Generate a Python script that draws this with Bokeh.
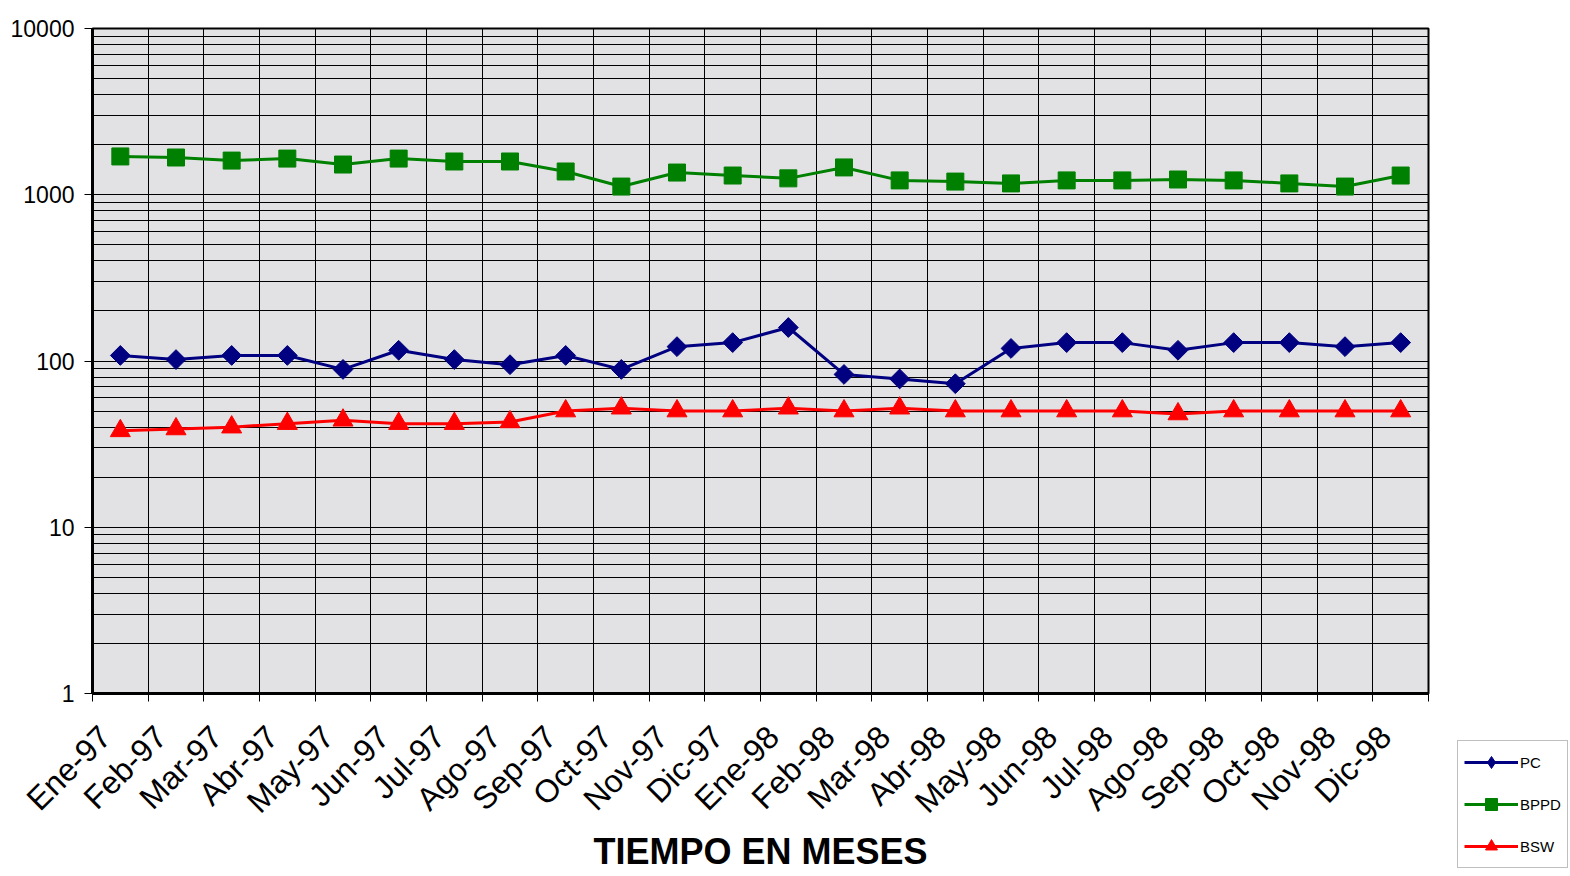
import math
from bokeh.plotting import figure
from bokeh.layouts import row, column
from bokeh.models import (Range1d, FixedTicker, PrintfTickFormatter, Legend, LegendItem,
                          Spacer)
from bokeh.embed import file_html
from bokeh.resources import INLINE

months = ["Ene-97", "Feb-97", "Mar-97", "Abr-97", "May-97", "Jun-97", "Jul-97", "Ago-97",
          "Sep-97", "Oct-97", "Nov-97", "Dic-97", "Ene-98", "Feb-98", "Mar-98", "Abr-98",
          "May-98", "Jun-98", "Jul-98", "Ago-98", "Sep-98", "Oct-98", "Nov-98", "Dic-98"]
pc = [108, 102, 108, 108, 89, 116, 102, 95, 108, 89, 122, 129,
      159, 83, 78, 73, 119, 129, 129, 116, 129, 129, 122, 129]
bppd = [1700, 1675, 1605, 1650, 1520, 1650, 1585, 1585, 1380, 1120, 1360, 1305,
        1255, 1460, 1220, 1200, 1170, 1220, 1220, 1235, 1220, 1170, 1120, 1305]
bsw = [38, 39, 40, 42, 44, 42, 42, 43, 50, 52, 50, 50,
       52, 50, 52, 50, 50, 50, 50, 48, 50, 50, 50, 50]
y_ticks = [1, 10, 100, 1000, 10000]
series_names = ["PC", "BPPD", "BSW"]

FONT = "Liberation Sans"
NAVY, GREEN, RED = "#000080", "#008000", "#FF0000"
n = len(months)
xs = [i + 0.5 for i in range(n)]
label_pos = [x - 0.27 for x in xs]  # rotated labels end slightly left of the category centre

p = figure(width=1457, height=875, y_axis_type="log",
           x_range=Range1d(0, n), y_range=Range1d(1, 10000),
           output_backend="svg", toolbar_location=None,
           min_border_left=92, min_border_right=29, min_border_top=28, min_border_bottom=182)
p.background_fill_color = "#e2e2e4"
p.border_fill_color = "white"
p.outline_line_color = "black"
p.outline_line_width = 2

# x axis
minor_x = list(range(n + 1))
p.xaxis.ticker = FixedTicker(ticks=label_pos, minor_ticks=minor_x)
p.xaxis.major_label_overrides = {x: m for x, m in zip(label_pos, months)}
p.xaxis.major_label_orientation = math.pi / 4
p.xaxis.major_label_text_font = FONT
p.xaxis.major_label_text_font_size = "32px"
p.xaxis.major_label_text_color = "black"
p.xaxis.major_tick_line_color = None
p.xaxis.major_tick_out = 8
p.xaxis.major_tick_in = 0
p.xaxis.minor_tick_line_color = "black"
p.xaxis.minor_tick_out = 8
p.xaxis.minor_tick_in = 0
p.xaxis.minor_tick_line_width = 1
p.xaxis.major_label_standoff = 30
p.xaxis.axis_line_width = 3
p.xaxis.axis_line_color = "black"
p.xaxis.axis_label = "TIEMPO EN MESES"
p.xaxis.axis_label_text_font = FONT
p.xaxis.axis_label_text_font_style = "bold"
p.xaxis.axis_label_text_font_size = "36px"
p.xaxis.axis_label_text_color = "black"
p.xaxis.axis_label_standoff = -4

# y axis
minor_y = [m * 10 ** k for k in range(4) for m in range(2, 10)]
p.yaxis.ticker = FixedTicker(ticks=y_ticks, minor_ticks=minor_y)
p.yaxis.formatter = PrintfTickFormatter(format="%d")
p.yaxis.major_label_text_font = FONT
p.yaxis.major_label_text_font_size = "23px"
p.yaxis.major_label_text_color = "black"
p.yaxis.major_tick_out = 8
p.yaxis.major_tick_in = 0
p.yaxis.major_tick_line_color = "black"
p.yaxis.minor_tick_line_color = None
p.yaxis.major_label_standoff = 10
p.yaxis.axis_line_width = 3
p.yaxis.axis_line_color = "black"

# grids
p.xgrid.ticker = FixedTicker(ticks=minor_x)
p.xgrid.grid_line_color = "black"
p.xgrid.grid_line_width = 1
p.ygrid.grid_line_color = "black"
p.ygrid.grid_line_width = 1
p.ygrid.minor_grid_line_color = "black"
p.ygrid.minor_grid_line_width = 1

# series
p.line(xs, pc, line_color=NAVY, line_width=3)
p.scatter(xs, pc, marker="square", angle=math.pi / 4, size=14, fill_color=NAVY, line_color=NAVY)
p.line(xs, bppd, line_color=GREEN, line_width=3)
p.scatter(xs, bppd, marker="square", size=17, fill_color=GREEN, line_color=GREEN)
p.line(xs, bsw, line_color=RED, line_width=3)
p.scatter(xs, bsw, marker="triangle", size=20, fill_color=RED, line_color=RED)

# legend in its own small figure at the bottom right; the series drawn there lie
# outside that figure's visible range, so only the legend shows
lg = figure(width=112, height=128, output_backend="svg", toolbar_location=None,
            x_axis_location=None, y_axis_location=None,
            x_range=Range1d(0, n), y_range=Range1d(-2, -1),
            min_border=0)
lg.grid.visible = False
lg.outline_line_color = None
lg.background_fill_color = "white"
items = []
for name, vals, col, mk in zip(series_names, [pc, bppd, bsw], [NAVY, GREEN, RED],
                               ["diamond", "square", "triangle"]):
    r1 = lg.line(xs, vals, line_color=col, line_width=3)
    r2 = lg.scatter(xs, vals, marker=mk, size=12, fill_color=col, line_color=col)
    items.append(LegendItem(label=name, renderers=[r1, r2]))
legend = Legend(items=items, location="top_left")
legend.label_text_font = FONT
legend.label_text_font_size = "15px"
legend.label_text_color = "black"
legend.glyph_width = 54
legend.glyph_height = 30
legend.label_standoff = 2
legend.spacing = 12
legend.padding = 6
legend.margin = 0
legend.border_line_color = "#808080"
legend.border_line_width = 1.5
legend.background_fill_color = "white"
legend.background_fill_alpha = 1
lg.add_layout(legend, "center")

layout = row(p, column(Spacer(width=112, height=740), lg, spacing=0), spacing=0)
open("out.html", "w").write(file_html(layout, INLINE))
